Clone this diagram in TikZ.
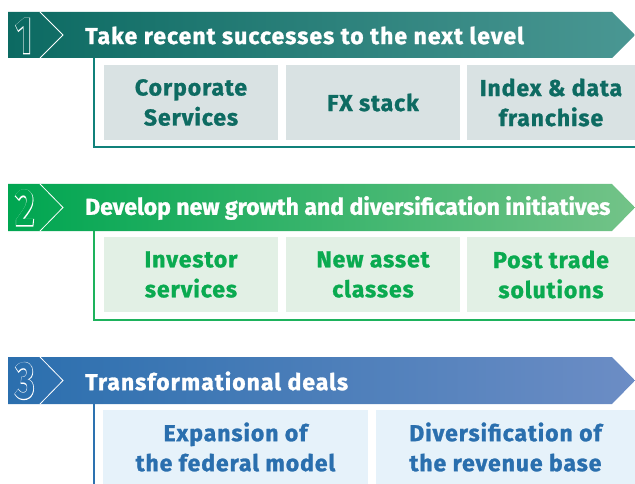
\documentclass[tikz,border=0pt]{standalone}
\usepackage{fontspec}
\setmainfont{Fira Sans}[BoldFeatures={FakeBold=1.2}]
\newfontfamily\digitplain{Fira Sans}
\newfontfamily\digitbold{Fira Sans}[FakeBold=3]
\definecolor{tealA}{HTML}{0C6A62}
\definecolor{tealB}{HTML}{078279}
\definecolor{tealC}{HTML}{4A9793}
\definecolor{tealLine}{HTML}{10817A}
\definecolor{tealFill}{HTML}{D9E2E3}
\definecolor{tealText}{HTML}{0E6B62}
\definecolor{greenA}{HTML}{00A651}
\definecolor{greenB}{HTML}{1AAE5B}
\definecolor{greenC}{HTML}{73C388}
\definecolor{greenLine}{HTML}{1DB25C}
\definecolor{greenFill}{HTML}{E2F0E5}
\definecolor{greenText}{HTML}{0AAA50}
\definecolor{blueA}{HTML}{2B6FAE}
\definecolor{blueB}{HTML}{4A80BC}
\definecolor{blueC}{HTML}{6C8DC5}
\definecolor{blueLine}{HTML}{2D72B0}
\definecolor{blueFill}{HTML}{E6F2FA}
\definecolor{blueText}{HTML}{2A6FAE}
\tikzset{
  bannertext/.style={anchor=west, text=white, font=\bfseries\fontsize{23}{25}\selectfont, inner sep=0pt},
  digitout/.style={text=white, font=\digitbold\bfseries\fontsize{52}{54}\selectfont, inner sep=0pt, xscale=0.72},
  digitin/.style={font=\digitplain\bfseries\fontsize{52}{54}\selectfont, inner sep=0pt, xscale=0.72},
  itembox/.style={minimum height=75pt, inner sep=0pt, align=center, font=\bfseries\fontsize{23}{30}\selectfont\addfontfeatures{LetterSpace=4}},
  framel/.style={line width=2pt},
  chev/.style={white, line width=0.8pt}
}
\begin{document}
\begin{tikzpicture}[x=1pt,y=-1pt]
\useasboundingbox (0,0) rectangle (635,484);
% ---------- row 1
\draw[framel, tealLine] (94,58) -- (94,147) -- (635,147);
\path[left color=tealA, middle color=tealB, right color=tealC] (8,12) -- (612,12) -- (635,35) -- (612,58) -- (8,58) -- cycle;
\draw[chev] (40,12) -- (63,35) -- (40,58);
\node[digitout] (d1o) at (24,36) {1};
\node[digitin, text=tealA] (d1) at (d1o.center) {1};
\node[bannertext, font=\bfseries\fontsize{23}{25}\selectfont\addfontfeatures{LetterSpace=4.5}] (t1) at (85,35.5) {Take recent successes to the next level};
\node[itembox, fill=tealFill, text=tealText, minimum width=174pt] (a1) at (191,102.5) {Corporate\\Services};
\node[itembox, fill=tealFill, text=tealText, minimum width=174pt] (a2) at (373,102.5) {FX stack};
\node[itembox, fill=tealFill, text=tealText, minimum width=168pt] (a3) at (551,102.5) {Index \& data\\franchise};
% ---------- row 2
\draw[framel, greenLine] (94,231) -- (94,320) -- (635,320);
\path[left color=greenA, middle color=greenB, right color=greenC] (8,184) -- (612,184) -- (635,207.5) -- (612,231) -- (8,231) -- cycle;
\draw[chev] (40,184) -- (63,207.5) -- (40,231);
\node[digitout] (d2o) at (25,208) {2};
\node[digitin, text=greenA] (d2) at (d2o.center) {2};
\node[bannertext] (t2) at (85,208) {Develop new growth and diversification initiatives};
\node[itembox, fill=greenFill, text=greenText, minimum width=174pt] (b1) at (191,274.5) {Investor\\services};
\node[itembox, fill=greenFill, text=greenText, minimum width=174pt] (b2) at (373,274.5) {New asset\\classes};
\node[itembox, fill=greenFill, text=greenText, minimum width=168pt] (b3) at (551,274.5) {Post trade\\solutions};
% ---------- row 3
\draw[framel, blueLine] (94,404) -- (94,484);
\path[left color=blueA, middle color=blueB, right color=blueC] (8,357) -- (612,357) -- (635,380.5) -- (612,404) -- (8,404) -- cycle;
\draw[chev] (40,357) -- (63,380.5) -- (40,404);
\node[digitout] (d3o) at (25,381) {3};
\node[digitin, text=blueA] (d3) at (d3o.center) {3};
\node[bannertext, font=\bfseries\fontsize{23}{25}\selectfont\addfontfeatures{LetterSpace=4.3}] (t3) at (85,381) {Transformational deals};
\node[itembox, fill=blueFill, text=blueText, minimum width=265pt, minimum height=74pt] (c1) at (235.5,447) {Expansion of\\the federal model};
\node[itembox, fill=blueFill, text=blueText, minimum width=259pt, minimum height=74pt] (c2) at (505.5,447) {Diversification of\\the revenue base};
\end{tikzpicture}
\end{document}
